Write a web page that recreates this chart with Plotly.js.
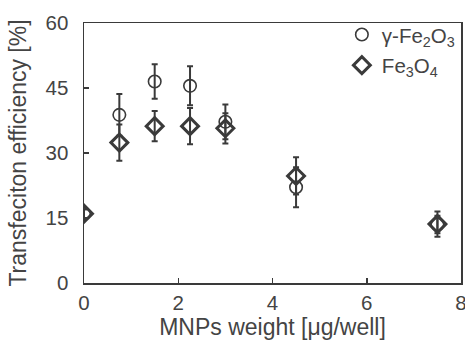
<!DOCTYPE html>
<html><head><meta charset="utf-8">
<script src="https://cdn.plot.ly/plotly-3.0.1.min.js"></script>
<style>body{margin:0;background:#fff}#c{width:465px;height:340px}</style>
</head><body><div id="c"></div>
<script>
const weights = [0, 0.75, 1.5, 2.25, 3, 4.5, 7.5];
const gammaFe2O3 = [16, 38.8, 46.5, 45.5, 37.2, 22.1, 13.5];
const gammaErr = [1, 4.8, 4, 4.5, 4, 4.6, 2];
const fe3o4 = [16, 32.4, 36.2, 36.2, 35.7, 24.7, 13.6];
const fe3o4Err = [1, 4.2, 3.5, 4.2, 3.5, 4.3, 2.9];
const xTicks = [0, 2, 4, 6, 8];
const yTicks = [0, 15, 30, 45, 60];

const ink = '#3a3a3a';
const traces = [
  {x: weights, y: gammaFe2O3, name: 'γ-Fe<sub>2</sub>O<sub>3</sub>', type: 'scatter', mode: 'markers',
   legendgroup: 'a',
   marker: {symbol: 'circle-open', size: 12.5, color: ink, line: {width: 1.6, color: ink}},
   error_y: {type: 'data', array: gammaErr, visible: true, color: ink, thickness: 2, width: 3}},
  {x: weights, y: fe3o4, name: 'Fe<sub>3</sub>O<sub>4</sub>', type: 'scatter', mode: 'markers',
   legendgroup: 'b',
   marker: {symbol: 'diamond-open', size: 13, color: ink, line: {width: 3, color: ink}},
   error_y: {type: 'data', array: fe3o4Err, visible: true, color: ink, thickness: 2, width: 3}}
];
const fam = 'Liberation Sans, Arial, sans-serif';
const tickFont = {family: fam, size: 20.5, color: '#444'};
const titleFont = {family: fam, size: 23, color: '#444'};
const layout = {
  width: 465, height: 340,
  margin: {l: 84, r: 4, t: 23, b: 57},
  paper_bgcolor: '#fff', plot_bgcolor: '#fff',
  font: tickFont,
  showlegend: true,
  legend: {x: 0.684, y: 1.032, xanchor: 'left', yanchor: 'top', bgcolor: 'rgba(0,0,0,0)',
           traceorder: 'grouped', tracegroupgap: 1, font: tickFont},
  xaxis: {range: [0, 8], tickvals: xTicks, ticktext: xTicks.map(String),
          ticks: 'inside', ticklen: 5, tickwidth: 1.5, tickcolor: ink,
          ticklabeloverflow: 'allow', ticklabelstandoff: 1, tickfont: tickFont,
          showline: true, linecolor: ink, linewidth: 1.5, mirror: true,
          showgrid: false, zeroline: false,
          title: {text: 'MNPs weight [μg/well]', font: titleFont, standoff: 2}},
  yaxis: {range: [0, 60], tickvals: yTicks, ticktext: yTicks.map(String),
          ticks: 'inside', ticklen: 5, tickwidth: 1.5, tickcolor: ink,
          ticklabeloverflow: 'allow', ticklabelstandoff: 10, tickfont: tickFont,
          showline: true, linecolor: ink, linewidth: 1.5, mirror: true,
          showgrid: false, zeroline: false,
          title: {text: 'Transfeciton efficiency [%]', font: titleFont, standoff: 12}}
};
Plotly.newPlot('c', traces, layout, {displayModeBar: false, staticPlot: true});
</script></body></html>
